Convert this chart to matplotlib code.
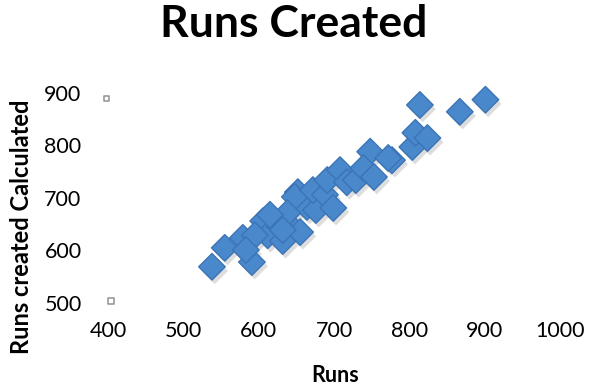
import numpy as np
import matplotlib
matplotlib.use('Agg')
import matplotlib.pyplot as plt
import matplotlib.patheffects as pe

plt.rcParams['font.family'] = ['Lato', 'DejaVu Sans']

# runs scored vs. runs created (calculated)
runs = [538, 555, 591, 579, 606, 612, 632, 638, 628, 655, 664, 652, 648,
        638, 676, 672, 688, 699, 691, 708, 717, 729, 748, 739, 753, 777,
        772, 804, 808, 824, 814, 867, 901, 595, 583, 615, 632]
runs_created = [569, 605, 578, 624, 656, 629, 618, 652, 645, 635, 683, 711,
                702, 671, 677, 715, 706, 681, 734, 753, 730, 734, 788, 757,
                740, 772, 776, 797, 824, 814, 877, 864, 887, 629, 601, 668, 639]

# two stray grey marks on the left edge
stray_x = [398, 404]
stray_y = [889, 504]

fig = plt.figure(figsize=(5.94, 3.87), dpi=100)
ax = fig.add_axes([0.1818, 0.217, 0.761, 0.543])

sc = ax.scatter(runs, runs_created, marker='D', s=13.5**2,
                facecolor='#4a88cc', edgecolor='#3b74b6', linewidth=1.0,
                zorder=3, clip_on=False)
sc.set_path_effects([pe.SimplePatchShadow(offset=(2, -3), alpha=0.2,
                                          shadow_rgbFace='#555555'),
                     pe.Normal()])

ax.scatter(stray_x, stray_y, marker='s', s=16, facecolor='none',
           edgecolor='#999999', linewidth=1.2, zorder=2, clip_on=False)

ax.set_xlim(400, 1000)
ax.set_ylim(500, 900)
ax.set_xticks(np.arange(400, 1001, 100))
ax.set_yticks(np.arange(500, 901, 100))
for s in ax.spines.values():
    s.set_visible(False)
ax.tick_params(length=0, labelsize=15.5, colors='black')
ax.tick_params(axis='x', pad=13)
ax.tick_params(axis='y', pad=19)

fig.text(0.564, 0.03, 'Runs', ha='center', va='center',
         fontsize=15.5, fontweight='bold')
fig.text(0.037, 0.413, 'Runs created Calculated', ha='center', va='center',
         rotation=90, fontsize=17, fontweight='bold')
fig.text(0.495, 0.938, 'Runs Created', ha='center', va='center',
         fontsize=32, fontweight='bold')

fig.savefig('out.png', dpi=100)
